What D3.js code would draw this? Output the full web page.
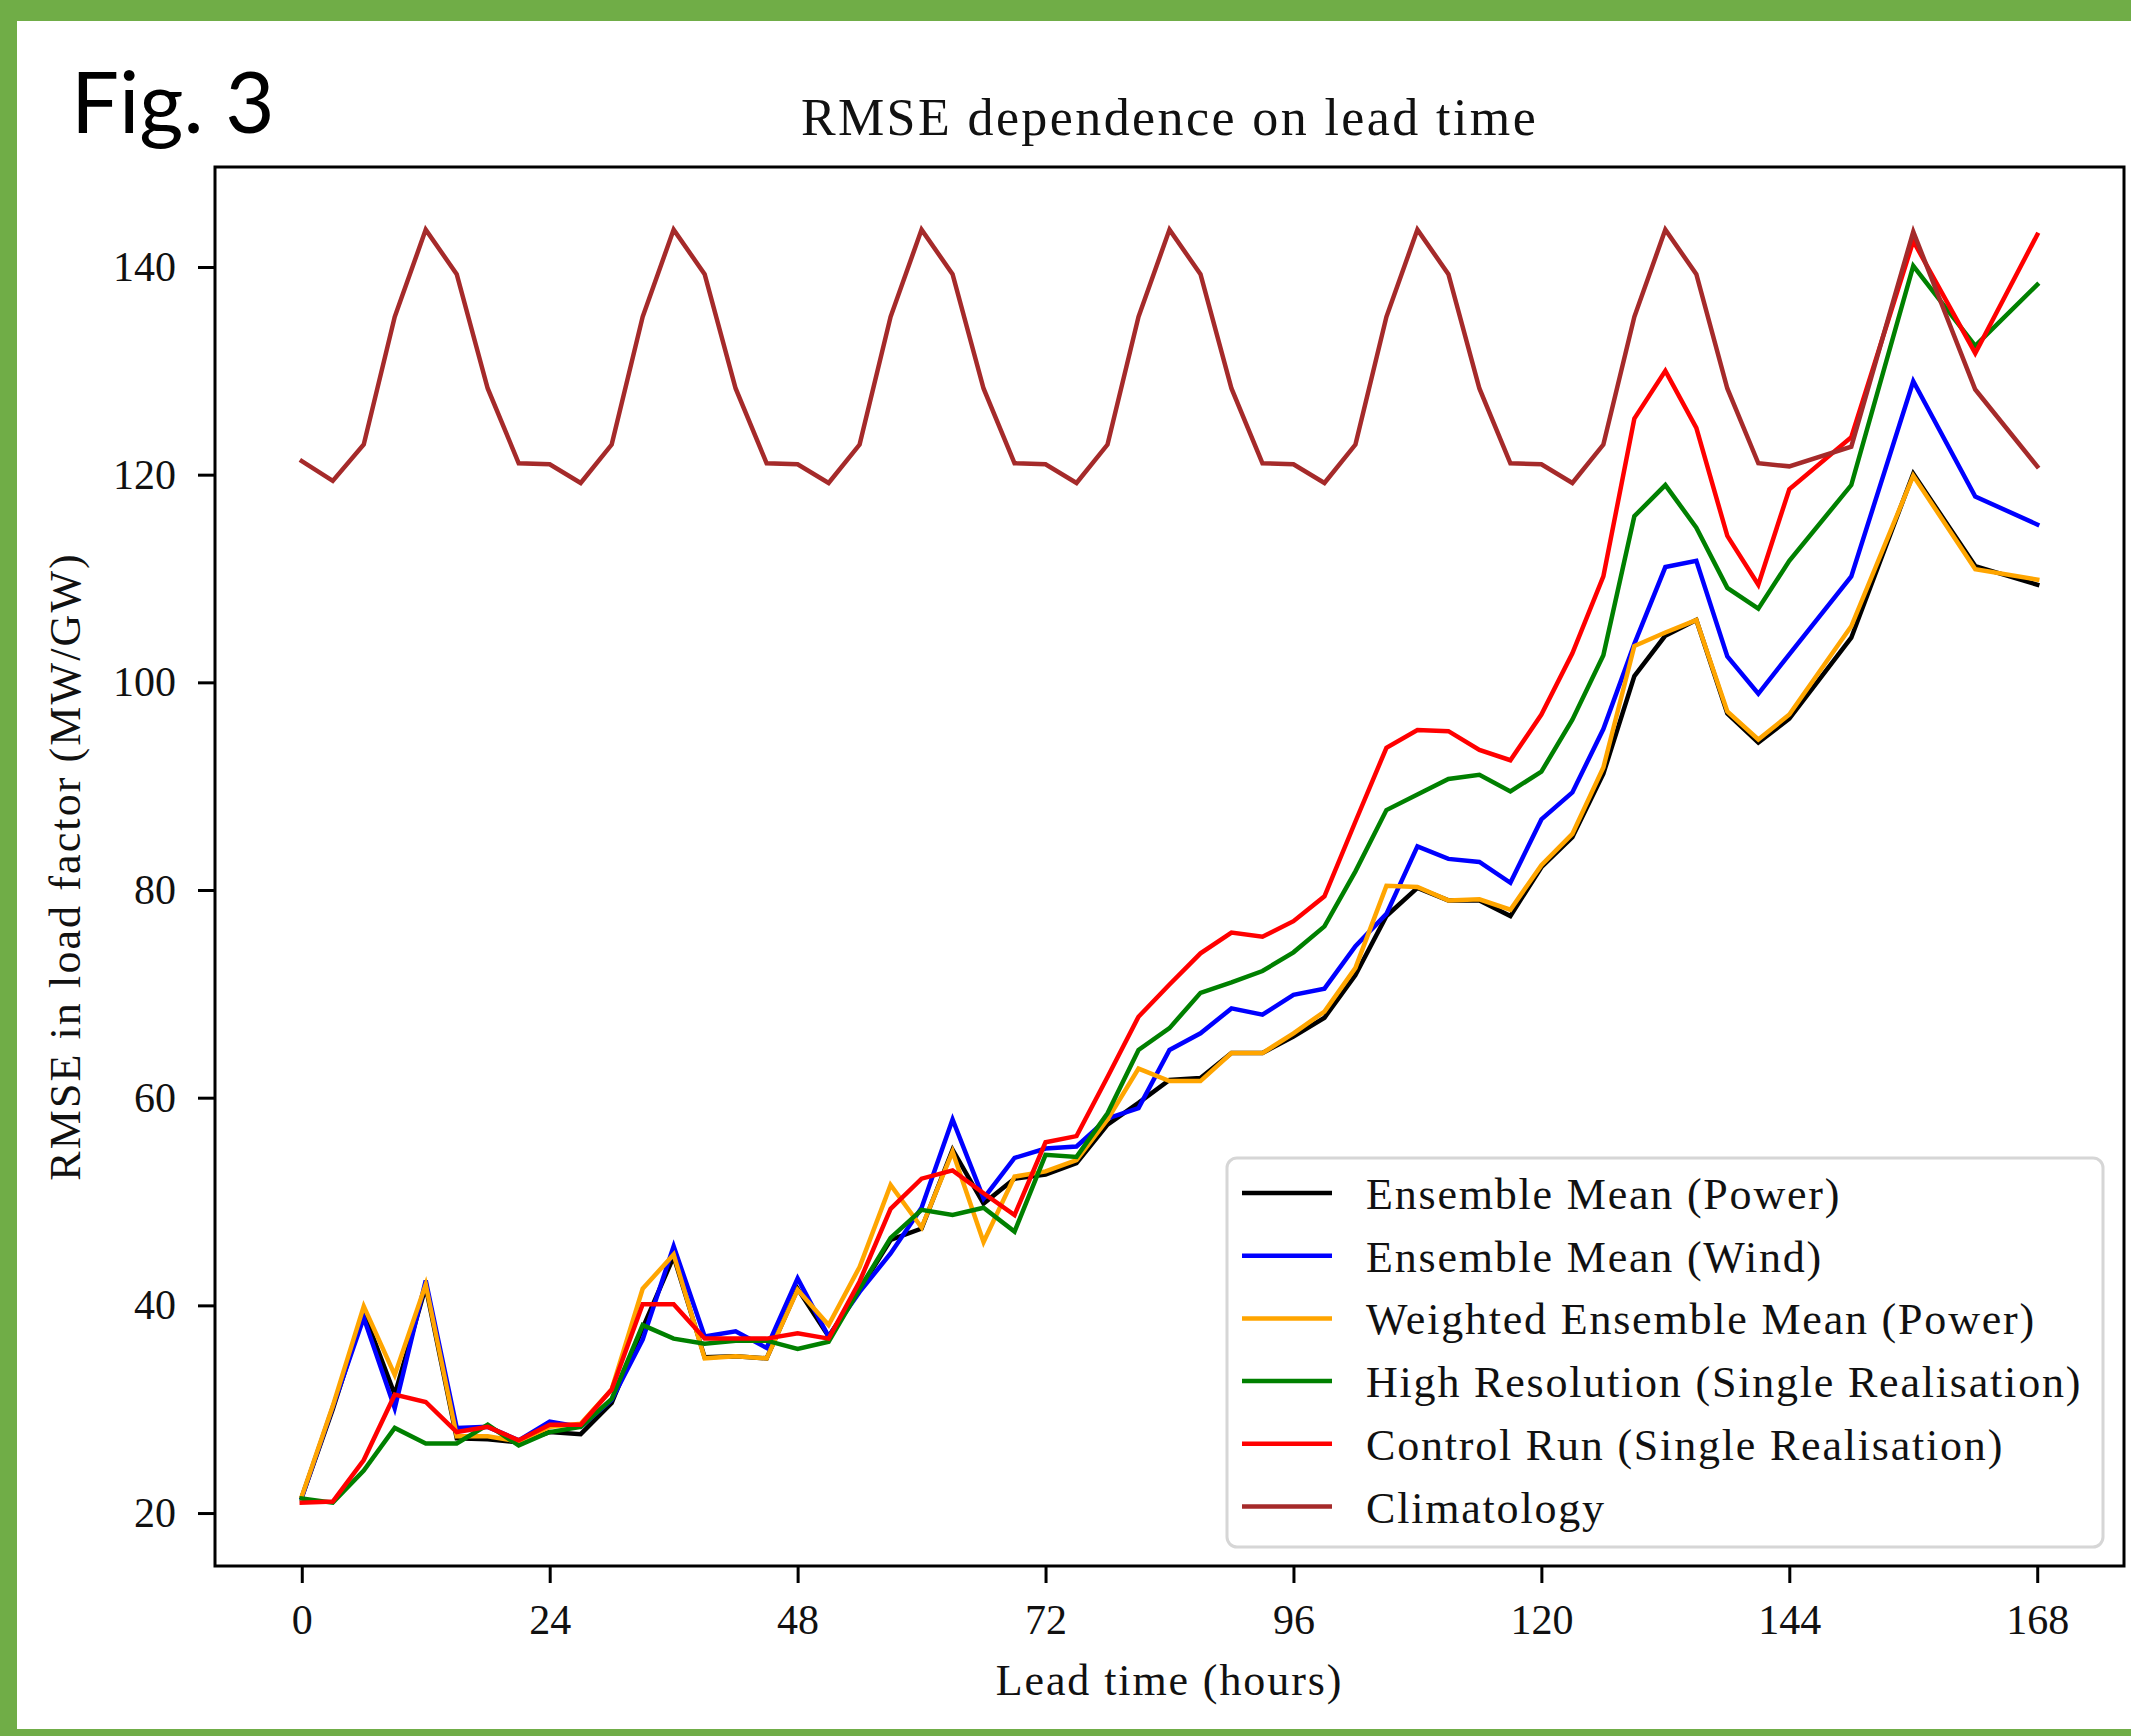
<!DOCTYPE html>
<html>
<head>
<meta charset="utf-8">
<script src="https://cdn.jsdelivr.net/npm/d3@7"></script>
<style>
  html, body { margin: 0; padding: 0; background: #fff; }
  svg { display: block; }
</style>
</head>
<body>
<svg id="chart" width="2131" height="1736"></svg>
<script>
// ---------------- data ----------------
const hours = [0,3,6,9,12,15,18,21,24,27,30,33,36,39,42,45,48,51,54,57,60,63,66,69,72,75,78,81,84,87,90,93,96,99,102,105,108,111,114,117,120,123,126,129,132,135,138,141,144,150,156,162,168];

const ensembleMeanPower = [21.5,30.0,39.3,31.4,41.8,27.2,27.1,26.8,27.8,27.6,30.6,37.8,44.7,35.0,35.1,34.9,41.6,37.0,41.5,46.3,47.4,55.0,49.8,52.2,52.6,53.7,57.4,59.5,61.7,61.9,64.3,64.3,65.9,67.7,71.8,77.5,80.2,79.0,79.0,77.5,82.2,85.1,91.2,100.6,104.5,106.0,97.0,94.2,96.5,104.3,120.1,111.2,109.4];

const ensembleMeanWind = [21.5,30.2,38.8,30.1,42.4,28.2,28.3,27.0,28.8,28.3,30.9,36.7,45.7,37.0,37.5,35.9,42.6,37.0,41.3,45.0,49.4,57.9,50.3,54.2,55.1,55.3,58.0,59.0,64.6,66.2,68.6,68.0,69.9,70.5,74.6,77.7,84.2,83.0,82.7,80.7,86.8,89.4,95.5,103.7,111.1,111.7,102.5,98.9,102.7,110.2,129.0,117.9,115.2];

const weightedEnsembleMean = [21.6,30.3,39.9,33.3,42.0,27.4,27.4,26.9,28.3,28.6,31.9,41.6,44.9,34.9,35.1,34.9,41.5,38.1,43.7,51.6,47.5,54.8,46.1,52.4,52.9,54.0,57.9,62.8,61.6,61.6,64.3,64.3,66.2,68.3,72.5,80.4,80.3,79.0,79.1,78.1,82.4,85.4,91.8,103.5,104.8,106.0,97.2,94.5,96.9,105.4,119.9,110.9,109.9];

const highResolution = [21.4,21.0,24.1,28.2,26.7,26.7,28.5,26.5,27.8,28.3,31.0,38.1,36.8,36.3,36.6,36.6,35.8,36.5,41.6,46.5,49.2,48.7,49.4,47.1,54.5,54.3,58.5,64.6,66.7,70.1,71.1,72.2,74.0,76.5,81.8,87.7,89.2,90.7,91.1,89.5,91.4,96.4,102.6,116.0,119.0,114.9,109.1,107.1,111.7,119.0,140.1,132.4,138.3];

const controlRun = [21.0,21.1,25.1,31.4,30.7,27.8,28.3,27.0,28.5,28.5,31.9,40.1,40.1,36.8,36.8,36.8,37.3,36.8,42.3,49.3,52.2,53.0,50.8,48.7,55.7,56.3,62.0,67.8,70.9,73.9,75.9,75.5,77.0,79.4,86.6,93.7,95.4,95.3,93.5,92.5,96.9,102.8,110.2,125.4,130.0,124.5,114.1,109.4,118.6,123.6,142.5,131.7,143.1];

const climatology = [
  121.3,119.4,122.9,135.2,143.6,139.3,128.3,121.1,
  121.0,119.2,122.9,135.2,143.6,139.3,128.3,121.1,
  121.0,119.2,122.9,135.2,143.6,139.3,128.3,121.1,
  121.0,119.2,122.9,135.2,143.6,139.3,128.3,121.1,
  121.0,119.2,122.9,135.2,143.6,139.3,128.3,121.1,
  121.0,119.2,122.9,135.2,143.6,139.3,128.3,121.1,
  120.8,122.7,143.4,128.2,120.8];

const seriesNames = [
  "Ensemble Mean (Power)",
  "Ensemble Mean (Wind)",
  "Weighted Ensemble Mean (Power)",
  "High Resolution (Single Realisation)",
  "Control Run (Single Realisation)",
  "Climatology"
];
const seriesValues = [ensembleMeanPower, ensembleMeanWind, weightedEnsembleMean, highResolution, controlRun, climatology];
const seriesColors = ["#000000", "#0000ff", "#ffa500", "#008000", "#ff0000", "#a52a2a"];

const xTicks = [0,24,48,72,96,120,144,168];
const yTicks = [20,40,60,80,100,120,140];

const titleText = "RMSE dependence on lead time";
const xLabelText = "Lead time (hours)";
const yLabelText = "RMSE in load factor (MW/GW)";
const figLabelText = "Fig. 3";

// ---------------- layout ----------------
const W = 2131, H = 1736;
const plot = { left: 215, right: 2124, top: 167, bottom: 1566 };
const serif = "'Liberation Serif', 'Times New Roman', serif";

const svg = d3.select("#chart");

// green frame
svg.append("rect").attr("x", 0).attr("y", 0).attr("width", W).attr("height", H).attr("fill", "#70ad47");
svg.append("rect").attr("x", 17).attr("y", 21).attr("width", W - 17).attr("height", 1729 - 21).attr("fill", "#ffffff");

const x = d3.scaleLinear().domain([-8.4, 176.4]).range([plot.left, plot.right]);
const y = d3.scaleLinear().domain([14.9, 149.63]).range([plot.bottom, plot.top]);

// fig label
svg.append("text")
  .attr("x", 71).attr("y", 133)
  .attr("font-family", "Lato, 'Open Sans', sans-serif")
  .attr("font-size", 85)
  .attr("fill", "#000")
  .text(figLabelText);

// title
svg.append("text")
  .attr("x", (plot.left + plot.right) / 2).attr("y", 135)
  .attr("text-anchor", "middle")
  .attr("font-family", serif)
  .attr("font-size", 52)
  .attr("letter-spacing", "2.4px")
  .attr("fill", "#111")
  .text(titleText);

// lines
const clip = svg.append("defs").append("clipPath").attr("id", "plotclip")
  .append("rect").attr("x", plot.left).attr("y", plot.top)
  .attr("width", plot.right - plot.left).attr("height", plot.bottom - plot.top);

const line = d3.line().x(d => x(d[0])).y(d => y(d[1]));
const gLines = svg.append("g").attr("clip-path", "url(#plotclip)");
seriesValues.forEach((vals, i) => {
  gLines.append("path")
    .datum(hours.map((h, k) => [h, vals[k]]))
    .attr("d", line)
    .attr("fill", "none")
    .attr("stroke", seriesColors[i])
    .attr("stroke-width", 4.5)
    .attr("stroke-linejoin", "miter")
    .attr("stroke-linecap", "square");
});

// axes
const xAxis = d3.axisBottom(x).tickValues(xTicks).tickSize(17).tickSizeOuter(0).tickPadding(21);
const yAxis = d3.axisLeft(y).tickValues(yTicks).tickSize(17).tickSizeOuter(0).tickPadding(22);

const gx = svg.append("g").attr("transform", `translate(0,${plot.bottom})`).call(xAxis);
const gy = svg.append("g").attr("transform", `translate(${plot.left},0)`).call(yAxis);
[gx, gy].forEach(g => {
  g.select(".domain").remove();
  g.selectAll(".tick line").attr("stroke", "#000").attr("stroke-width", 3);
  g.selectAll(".tick text")
    .attr("font-family", serif)
    .attr("font-size", 42)
    .attr("fill", "#111");
});

// frame
svg.append("rect")
  .attr("x", plot.left).attr("y", plot.top)
  .attr("width", plot.right - plot.left).attr("height", plot.bottom - plot.top)
  .attr("fill", "none").attr("stroke", "#000").attr("stroke-width", 3);

// axis labels
svg.append("text")
  .attr("x", (plot.left + plot.right) / 2).attr("y", 1695)
  .attr("text-anchor", "middle")
  .attr("font-family", serif)
  .attr("font-size", 44)
  .attr("letter-spacing", "1.9px")
  .attr("fill", "#111")
  .text(xLabelText);

svg.append("text")
  .attr("transform", `translate(80,${(plot.top + plot.bottom) / 2}) rotate(-90)`)
  .attr("text-anchor", "middle")
  .attr("font-family", serif)
  .attr("font-size", 44)
  .attr("letter-spacing", "2.1px")
  .attr("fill", "#111")
  .text(yLabelText);

// legend
const leg = { x: 1227, y: 1158, w: 876, h: 389 };
const gLeg = svg.append("g");
gLeg.append("rect")
  .attr("x", leg.x).attr("y", leg.y).attr("width", leg.w).attr("height", leg.h)
  .attr("rx", 10).attr("ry", 10)
  .attr("fill", "#ffffff").attr("fill-opacity", 0.8)
  .attr("stroke", "#d6d6d6").attr("stroke-width", 3);

seriesNames.forEach((name, i) => {
  const cy = 1193 + i * 62.7;
  gLeg.append("line")
    .attr("x1", 1242).attr("x2", 1332).attr("y1", cy).attr("y2", cy)
    .attr("stroke", seriesColors[i]).attr("stroke-width", 4.5);
  gLeg.append("text")
    .attr("x", 1366).attr("y", cy + 16)
    .attr("font-family", serif)
    .attr("font-size", 44)
    .attr("letter-spacing", "1.8px")
    .attr("fill", "#111")
    .text(name);
});
</script>
</body>
</html>
